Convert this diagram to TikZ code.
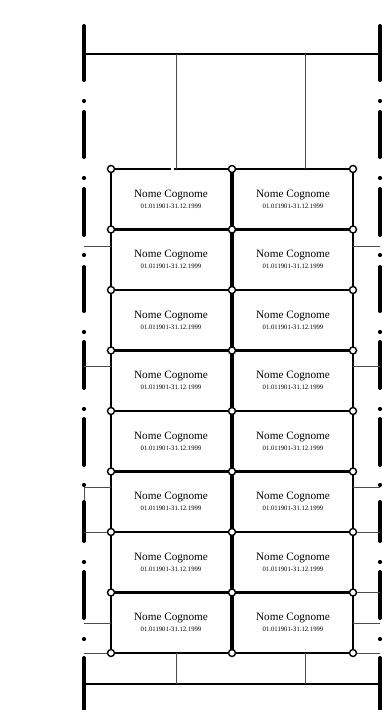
\documentclass[tikz,border=0pt]{standalone}
\usepackage{fontspec}
\setmainfont{Liberation Serif}
\usepackage{tikz}

\newcommand{\namefont}{\fontsize{11.2}{11.5}\selectfont}
\newcommand{\datefont}{\fontsize{6.7}{8}\selectfont}

\tikzset{
  rail/.style={line width=4pt, line cap=round},
  raildot/.style={circle, fill, inner sep=0pt, minimum size=4.2pt},
  wire/.style={line width=1pt, black!70},
  frame/.style={line width=1.4pt},
  cell/.style={draw, line width=2.2pt, inner sep=0pt, minimum width=120pt,
    minimum height=60.5pt, align=center},
  joint/.style={circle, draw, fill=white, line width=1.4pt, inner sep=0pt,
    minimum size=7pt},
}

\begin{document}
\begin{tikzpicture}[x=1pt, y=-1pt]
  \useasboundingbox (0,0) rectangle (390,710);

  % dash-dot rails on both sides
  \foreach \a/\b in {24/82, 110/159, 187/237, 265/313, 340/390, 417/467,
                     500/543, 570/620, 656/714} {
    \draw[rail] (84,\a+2) -- (84,\b-2);
    \draw[rail] (380,\a+2) -- (380,\b-2);
  }
  \foreach \y in {101, 178, 255, 332, 409, 485, 562, 639} {
    \node[raildot] (dl-\y) at (84,\y) {};
    \node[raildot] (dr-\y) at (380,\y) {};
  }

  % name plates
  \foreach \r in {1,...,8} {
    \foreach \c/\x in {1/171, 2/293} {
      \node[cell] (c-\r-\c) at (\x,138.75+60.5*\r)
        {{\namefont Nome Cognome}\\[-1pt]{\datefont 01.011901-31.12.1999}};
    }
  }
  \draw[white, line width=3.4pt] (170.5,169) -- (174,169);

  % top and bottom frame
  \coordinate (tl) at (84,54);
  \coordinate (tr) at (380,54);
  \coordinate (bl) at (84,684);
  \coordinate (br) at (380,684);
  \draw[frame] (tl) -- (tr);
  \draw[frame] (bl) -- (br);
  \foreach \x in {176, 305} {
    \coordinate (ta-\x) at (\x,54);
    \coordinate (ba-\x) at (\x,684);
    \draw[wire, line width=0.8pt] (ta-\x) -- (\x,169);
    \draw[wire, line width=0.8pt] (ba-\x) -- (\x,653);
  }

  % joints
  \foreach \k in {0,...,8} {
    \foreach \c/\x in {1/111, 2/232, 3/353} {
      \node[joint] (j-\k-\c) at (\x,169+60.5*\k) {};
    }
  }

  % ties from the rails
  \foreach \y in {246, 366, 487, 623} {
    \coordinate (wl-\y) at (84,\y);
    \draw[wire] (wl-\y) -- (wl-\y -| j-0-1.center);
  }
  \foreach \y in {246, 366, 487, 623} {
    \coordinate (wr-\y) at (380,\y);
    \draw[wire] (wr-\y) -- (wr-\y -| j-0-3.center);
  }
  \foreach \k in {6, 8} {
    \draw[wire] (j-\k-1 -| dl-101) -- (j-\k-1);
  }
  \foreach \k in {6, 7, 8} {
    \draw[wire] (j-\k-3 -| dr-101) -- (j-\k-3);
  }
  \draw[wire] (dl-485) -- ++(0,15);
\end{tikzpicture}
\end{document}
